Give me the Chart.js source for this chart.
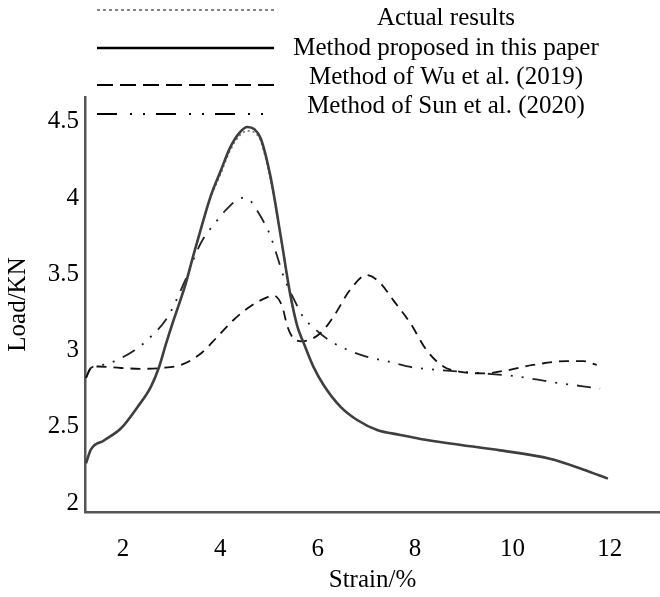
<!DOCTYPE html>
<html>
<head>
<meta charset="utf-8">
<script src="https://cdn.jsdelivr.net/npm/chart.js@4"></script>
<style>
  body { margin: 0; background: #fff; }
  canvas { display: block; }
</style>
</head>
<body>
<canvas id="loadChart" width="660" height="597"></canvas>
<script>
// strain (%) and load (KN)
var strainProposed = [1.24, 1.34, 1.61, 1.96, 2.30, 2.57, 2.74, 2.88, 3.03, 3.19, 3.29, 3.46, 3.63, 3.80, 4.01, 4.20, 4.40, 4.555, 4.70, 4.83, 5.03, 5.24, 5.44, 5.58, 5.71, 5.91, 6.12, 6.47, 6.81, 7.22, 7.70, 8.11, 8.72, 9.75, 10.77, 11.45, 11.96];
var loadProposed   = [2.26, 2.35, 2.41, 2.49, 2.63, 2.76, 2.89, 3.04, 3.19, 3.34, 3.44, 3.64, 3.83, 4.01, 4.18, 4.33, 4.43, 4.465, 4.45, 4.39, 4.14, 3.75, 3.36, 3.16, 3.05, 2.894, 2.774, 2.63, 2.544, 2.479, 2.446, 2.42, 2.39, 2.345, 2.29, 2.22, 2.16];

var strainActual = [1.24, 1.34, 1.61, 1.96, 2.30, 2.57, 2.74, 2.88, 3.03, 3.19, 3.29, 3.46, 3.63, 3.80, 4.01, 4.20, 4.40, 4.555, 4.70, 4.83, 5.03, 5.24, 5.44, 5.58, 5.71, 5.91, 6.12, 6.47, 6.81, 7.22, 7.70, 8.11, 8.72, 9.75, 10.77, 11.45, 11.96];
var loadActual   = [2.26, 2.35, 2.41, 2.49, 2.63, 2.76, 2.89, 3.04, 3.19, 3.34, 3.44, 3.64, 3.83, 4.00, 4.16, 4.31, 4.41, 4.44, 4.43, 4.37, 4.12, 3.74, 3.36, 3.16, 3.05, 2.894, 2.774, 2.63, 2.544, 2.479, 2.446, 2.42, 2.39, 2.345, 2.29, 2.22, 2.16];

var strainWu = [1.24, 1.34, 1.49, 1.96, 2.37, 2.78, 3.19, 3.60, 3.94, 4.27, 4.62, 4.97, 5.09, 5.27, 5.375, 5.50, 5.68, 6.06, 6.32, 6.67, 7.01, 7.29, 7.55, 7.90, 8.24, 8.58, 8.93, 9.40, 9.89, 10.42, 11.12, 11.45, 11.73];
var loadWu   = [2.82, 2.885, 2.895, 2.885, 2.88, 2.885, 2.905, 2.98, 3.09, 3.20, 3.29, 3.35, 3.36, 3.29, 3.16, 3.08, 3.06, 3.115, 3.22, 3.40, 3.495, 3.44, 3.33, 3.18, 3.00, 2.895, 2.86, 2.85, 2.87, 2.905, 2.93, 2.93, 2.905];

var strainSun = [1.24, 1.34, 1.49, 1.75, 2.23, 2.57, 2.92, 3.25, 3.60, 3.94, 4.11, 4.45, 4.62, 4.77, 5.03, 5.17, 5.30, 5.55, 5.68, 5.98, 6.32, 6.57, 7.00, 7.42, 7.94, 8.58, 9.40, 10.09, 10.77, 11.45, 11.80];
var loadSun   = [2.82, 2.885, 2.90, 2.92, 3.00, 3.09, 3.22, 3.44, 3.705, 3.855, 3.92, 4.00, 3.98, 3.91, 3.75, 3.615, 3.485, 3.31, 3.23, 3.13, 3.05, 3.01, 2.96, 2.93, 2.89, 2.87, 2.85, 2.83, 2.795, 2.765, 2.75];

var xTicks = [2, 4, 6, 8, 10, 12];
var yTicks = [2, 2.5, 3, 3.5, 4, 4.5];

var seriesNames = ["Actual results", "Method proposed in this paper", "Method of Wu et al. (2019)", "Method of Sun et al. (2020)"];

function toPoints(xs, ys) {
  return xs.map(function (x, i) { return { x: x, y: ys[i] }; });
}

var serif = "'Liberation Serif', 'Times New Roman', serif";

// legend drawn like the figure: long line sample on the left, centred text on the right
var figureLegend = {
  id: "figureLegend",
  afterDraw: function (chart) {
    var ctx = chart.ctx;
    var lineY = [10, 48, 85, 114];
    var textY = [18, 48, 77, 106];
    var dashes = [[3, 3], [], [16, 7], [20, 13, 2, 11, 2, 11]];
    var widths = [1.6, 2.6, 1.8, 2];
    var colors = ["#666", "#000", "#000", "#000"];
    ctx.save();
    chart.data.datasets.forEach(function (ds, i) {
      ctx.beginPath();
      ctx.setLineDash(dashes[i]);
      ctx.lineWidth = widths[i];
      ctx.strokeStyle = colors[i];
      ctx.moveTo(97, lineY[i]);
      ctx.lineTo(274, lineY[i]);
      ctx.stroke();
      ctx.setLineDash([]);
      ctx.fillStyle = "#000";
      ctx.font = "25px " + serif;
      ctx.textAlign = "center";
      ctx.textBaseline = "middle";
      ctx.fillText(ds.label, 446, textY[i]);
    });
    ctx.restore();
  },
};

new Chart(document.getElementById("loadChart"), {
  type: "line",
  data: {
    datasets: [
      {
        label: seriesNames[0],
        data: toPoints(strainActual, loadActual),
        borderColor: "#777",
        borderWidth: 1.6,
        borderDash: [2, 3],
        order: 1,
      },
      {
        label: seriesNames[1],
        data: toPoints(strainProposed, loadProposed),
        borderColor: "#3f3f3f",
        borderWidth: 2.6,
        order: 0,
      },
      {
        label: seriesNames[2],
        data: toPoints(strainWu, loadWu),
        borderColor: "#111",
        borderWidth: 1.8,
        borderDash: [10, 7],
        order: 2,
      },
      {
        label: seriesNames[3],
        data: toPoints(strainSun, loadSun),
        borderColor: "#222",
        borderWidth: 1.8,
        borderDash: [14, 9, 2, 9, 2, 9],
        order: 3,
      },
    ],
  },
  options: {
    responsive: false,
    animation: false,
    layout: { padding: { top: 97, right: 0, left: 0, bottom: 0 } },
    elements: {
      point: { radius: 0 },
      line: { cubicInterpolationMode: "monotone", fill: false },
    },
    plugins: {
      legend: { display: false },
      tooltip: { enabled: false },
    },
    scales: {
      x: {
        type: "linear",
        min: 1.22,
        max: 13.03,
        afterBuildTicks: function (scale) {
          scale.ticks = xTicks.map(function (v) { return { value: v }; });
        },
        afterFit: function (scale) { scale.height = 85; },
        grid: { display: false, drawTicks: false },
        border: { display: true, color: "#555", width: 2.5 },
        ticks: {
          padding: 22,
          color: "#000",
          font: { family: serif, size: 25 },
          maxRotation: 0,
        },
        title: {
          display: true,
          text: "Strain/%",
          color: "#000",
          font: { family: serif, size: 25 },
          padding: { top: 0, bottom: 2 },
        },
      },
      y: {
        type: "linear",
        min: 1.941,
        max: 4.662,
        afterBuildTicks: function (scale) {
          scale.ticks = yTicks.map(function (v) { return { value: v }; });
        },
        afterFit: function (scale) { scale.width = 85; },
        grid: { display: false, drawTicks: false },
        border: { display: true, color: "#555", width: 2.5 },
        ticks: {
          padding: 6,
          color: "#000",
          font: { family: serif, size: 25 },
          callback: function (value) { return String(value); },
        },
        title: {
          display: true,
          text: "Load/KN",
          color: "#000",
          font: { family: serif, size: 25 },
          padding: { top: 3, bottom: 0 },
        },
      },
    },
  },
  plugins: [figureLegend],
});
</script>
</body>
</html>
